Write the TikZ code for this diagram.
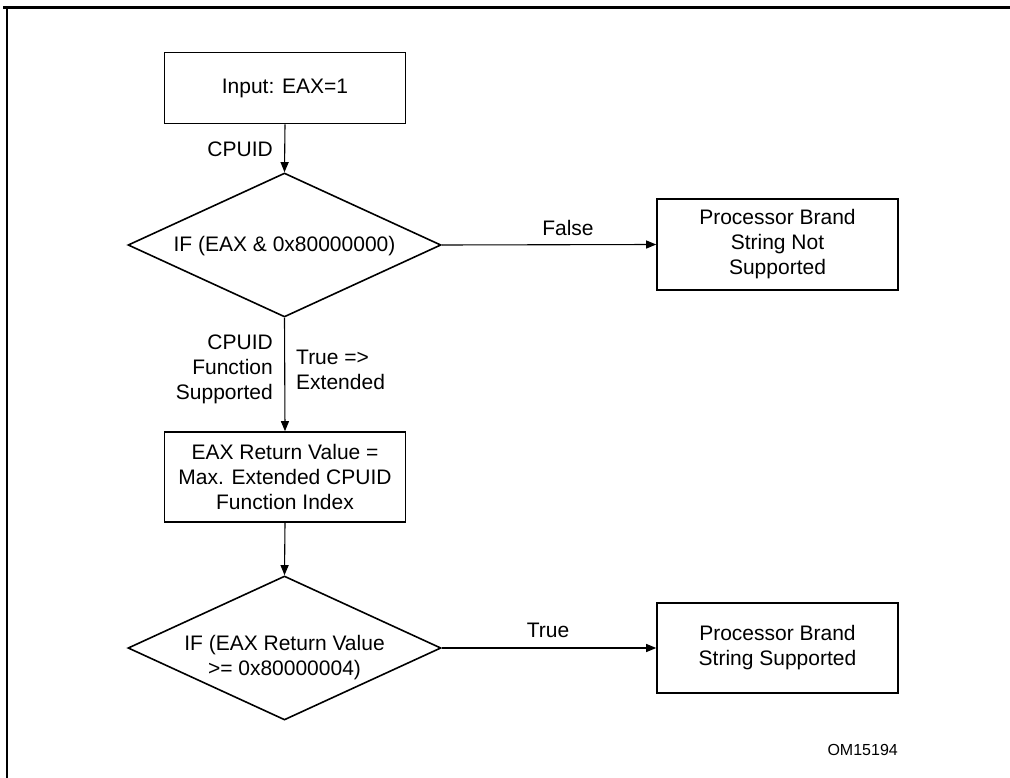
\documentclass[tikz,border=0pt]{standalone}
\usepackage{fontspec}
\setmainfont{Liberation Sans}
\usetikzlibrary{arrows.meta,shapes.geometric}
\begin{document}
\begin{tikzpicture}[x=1pt,y=-1pt,
  font=\fontsize{21}{25}\selectfont,
  box/.style={draw, line width=1.6pt, minimum width=241pt, align=center, inner sep=0pt},
  dec/.style={draw, diamond, line width=1.6pt, minimum width=313pt, minimum height=144pt, inner sep=0pt},
  conn/.style={line width=1.1pt, -{Triangle[length=10pt,width=8pt]}},
  lbl/.style={inner sep=0pt}]
\useasboundingbox (0,0) rectangle (1010,778);
% frame
\draw[line width=2.5pt] (3,7.5) -- (1010,7.5);
\draw[line width=2pt] (6.5,6.5) -- (6.5,778);
% nodes
\node[box, minimum height=71pt] (in) at (285,88) {Input: EAX=1};
\node[dec] (d1) at (284.5,245) {};
\node[lbl] (d1t) at (284.5,246) {IF (EAX \& 0x80000000)};
\node[box, minimum height=91pt] (ns) at (777.5,244.5) {Processor Brand\\String Not\\Supported};
\node[box, minimum height=90pt] (eax) at (285,477) {EAX Return Value =\\Max. Extended CPUID\\Function Index};
\node[dec] (d2) at (284.5,648) {};
\node[lbl, align=center] (d2t) at (284.5,658) {IF (EAX Return Value\\>= 0x80000004)};
\node[box, minimum height=90pt] (s) at (777.5,648) {Processor Brand\\String Supported};
% connectors
\draw[conn] (in.south) -- (d1.north);
\draw[conn] (d1.east) -- (ns.west);
\draw[conn] (d1.south) -- (eax.north);
\draw[conn] (eax.south) -- (d2.north);
\draw[conn] (d2.east) -- (s.west);
% labels
\node[lbl, anchor=east] (lcpuid) at (273,149) {CPUID};
\node[lbl] (lfalse) at (568,228) {False};
\node[lbl, anchor=east, align=right] (lsup) at (273,369) {CPUID\\Function\\Supported};
\node[lbl, anchor=west, align=left] (lext) at (296,370) {True =>\\Extended};
\node[lbl] (ltrue) at (548,630) {True};
\node[lbl, anchor=east, font=\fontsize{16}{19}\selectfont] (om) at (898,750) {OM15194};
\end{tikzpicture}
\end{document}
